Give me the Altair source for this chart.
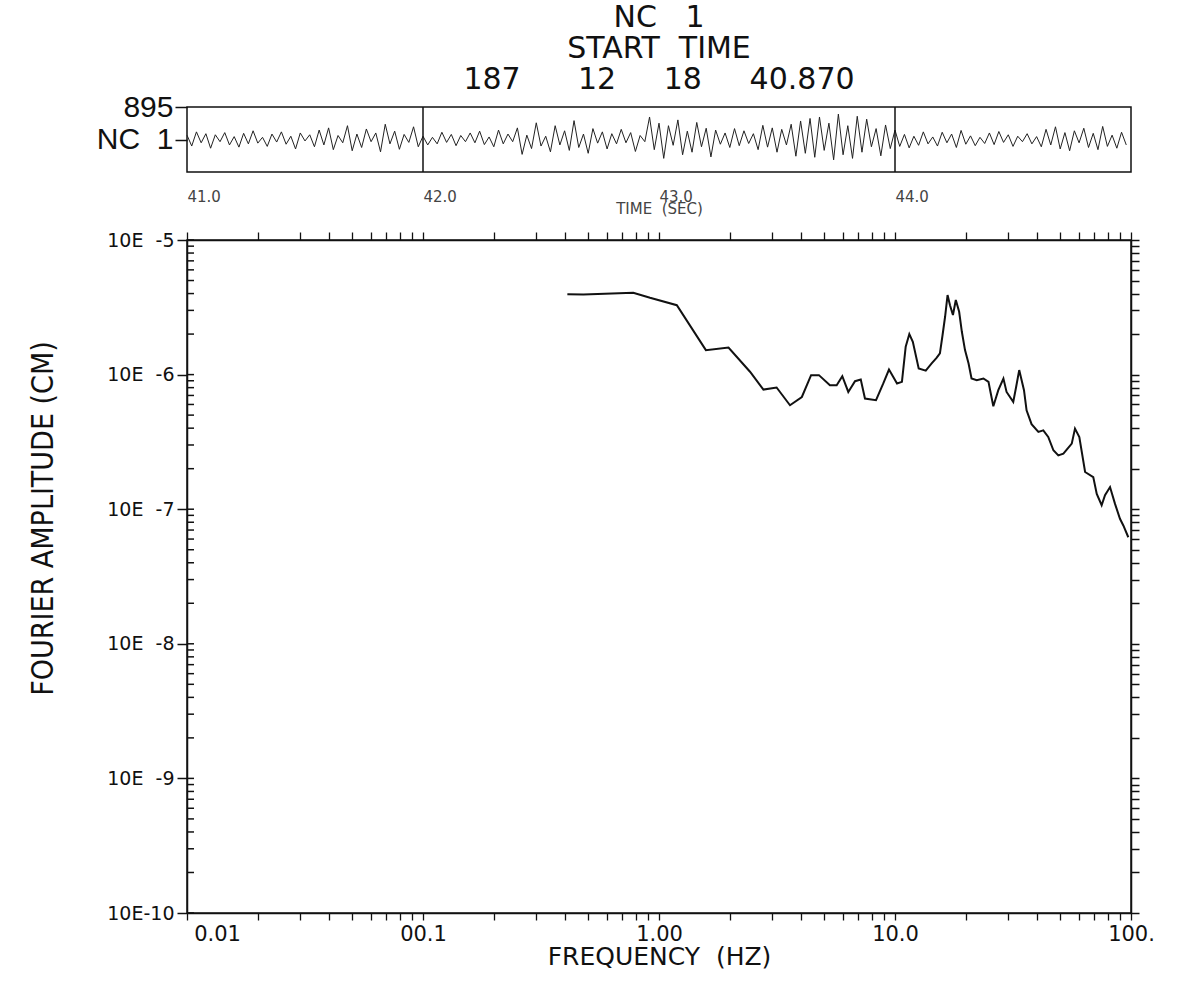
import altair as alt
import pandas as pd

# ---------------- data ----------------
# Fourier amplitude spectrum
freq_hz = [0.409, 0.478, 0.778, 0.916, 1.19, 1.58, 1.97, 2.43, 2.77, 3.15,
           3.59, 4.03, 4.41, 4.76, 5.30, 5.66, 5.98, 6.34, 6.77, 7.16,
           7.46, 8.31, 8.92, 9.43, 10.2, 10.7, 11.1, 11.5, 11.9, 12.6,
           13.5, 14.3, 15.0, 15.5, 15.9, 16.3, 16.7, 17.1, 17.6, 18.1,
           18.7, 19.2, 19.8, 20.5, 21.1, 22.2, 23.7, 24.9, 25.3, 26.1,
           27.4, 28.8, 29.7, 31.7, 32.6, 33.6, 35.2, 36.1, 37.9, 40.5,
           42.5, 44.6, 46.9, 49.2, 51.7, 56.1, 57.9, 60.4, 63.9, 69.2,
           71.6, 75.1, 77.6, 81.5, 85.5, 89.8, 92.8, 97.4]
amp_cm = [3.96e-6, 3.94e-6, 4.06e-6, 3.72e-6, 3.28e-6, 1.52e-6, 1.59e-6, 1.05e-6, 7.74e-7, 8.02e-7,
          5.92e-7, 6.82e-7, 9.91e-7, 9.91e-7, 8.34e-7, 8.34e-7, 9.72e-7, 7.43e-7, 8.93e-7, 9.20e-7,
          6.64e-7, 6.46e-7, 8.59e-7, 1.09e-6, 8.59e-7, 8.83e-7, 1.61e-6, 2.00e-6, 1.75e-6, 1.11e-6,
          1.07e-6, 1.21e-6, 1.33e-6, 1.44e-6, 1.96e-6, 2.69e-6, 3.90e-6, 3.28e-6, 2.77e-6, 3.58e-6,
          2.93e-6, 2.08e-6, 1.52e-6, 1.21e-6, 9.35e-7, 9.08e-7, 9.35e-7, 8.83e-7, 7.66e-7, 5.82e-7,
          7.66e-7, 9.35e-7, 7.43e-7, 6.27e-7, 8.09e-7, 1.08e-6, 7.66e-7, 5.43e-7, 4.28e-7, 3.75e-7,
          3.85e-7, 3.44e-7, 2.74e-7, 2.51e-7, 2.59e-7, 3.07e-7, 3.97e-7, 3.44e-7, 1.89e-7, 1.73e-7,
          1.30e-7, 1.07e-7, 1.27e-7, 1.46e-7, 1.10e-7, 8.49e-8, 7.57e-8, 6.19e-8]

# Time-history strip (41.00 s .. 44.98 s, every 0.02 s), counts
strip_values = [
    120, -180, 210, -90, 160, -240, 130, -60, 190, -150,
    80, -210, 170, -120, 240, -100, 60, -190, 150, -70,
    210, -130, 90, -260, 180, -40, 130, -200, 260, -150,
    320, -280, 110, -90, 380, -310, 150, -220, 290, -60,
    180, -340, 420, -120, 230, -270, 140, -80, 350, -200,
    90, -150, 60, -120, 200, -80, 140, -170, 110, -60,
    180, -90, 230, -140, 70, -200, 260, -120, 150, -60,
    320, -410, 120, -250, 460, -180, 90, -340, 380, -150,
    240, -300, 520, -220, 150, -380, 300, -100, 210, -260,
    160, -120, 280, -90, 190, -330, 110, -60, 620, -280,
    450, -520, 380, -160, 540, -420, 230, -350, 470, -200,
    310, -480, 260, -130, 180, -220, 300, -170, 240, -110,
    160, -280, 390, -210, 320, -350, 280, -150, 420, -460,
    510, -380, 580, -490, 620, -300, 450, -560, 700, -420,
    380, -520, 640, -350, 560, -200, 300, -450, 400, -250,
    260, -190, 140, -230, 90, -160, 210, -120, 70, -180,
    200, -90, 150, -220, 250, -130, 100, -170, 60, -110,
    180, -140, 220, -80, 130, -190, 90, -60, 160, -120,
    80, -200, 280, -150, 350, -260, 190, -310, 240, -90,
    310, -220, 170, -280, 360, -190, 120, -240, 200, -150,
]
strip_start = 41.0
strip_dt = 0.02
strip_time = [round(strip_start + i * strip_dt, 2) for i in range(len(strip_values))]
strip_full_scale = 895
strip_time_ticks = [41.0, 42.0, 43.0, 44.0]
strip_dividers = [42.0, 44.0]

title_lines = ["NC\u00a0\u00a0\u00a01", "START\u00a0\u00a0TIME",
               "187" + "\u00a0" * 6 + "12" + "\u00a0" * 5 + "18" + "\u00a0" * 5 + "40.870"]

x_decades = [0.01, 0.1, 1.0, 10.0, 100.0]
x_decade_labels = ["0.01", "00.1", "1.00", "10.0", "100."]
y_decades = [1e-10, 1e-9, 1e-8, 1e-7, 1e-6, 1e-5]
mantissas = [1, 2, 3, 4, 5, 6, 7, 8, 9]

x_all_ticks = [round(d * m, 6) for d in x_decades[:-1] for m in mantissas] + [100.0]
y_all_ticks = [float(f"{d * m:.3g}") for d in y_decades[:-1] for m in mantissas] + [1e-5]

spec_df = pd.DataFrame({"freq": freq_hz, "amp": amp_cm})
strip_df = pd.DataFrame({"t": strip_time, "v": strip_values})
div_df = pd.DataFrame({"t": strip_dividers})
ytick_df = pd.DataFrame({"v": y_all_ticks})

BLACK = "#111111"
PLOT_FONT = "DejaVu Sans"
TXT_FONT = "Liberation Sans"

# ---------------- label expressions ----------------
x_label_expr = " : ".join(
    f"datum.value == {v} ? '{s}'" for v, s in zip(x_decades, x_decade_labels)
) + " : ''"
y_label_expr = ("round(log(datum.value)/LN10) == -10 ? '10E-10' : "
                "'10E\u00a0\u00a0' + round(log(datum.value)/LN10)")

# ---------------- top strip ----------------
xs_strip = alt.Scale(domain=[41.0, 45.0], nice=False, zero=False)
ys_strip = alt.Scale(domain=[-strip_full_scale, strip_full_scale], nice=False)

strip_line = alt.Chart(strip_df).mark_line(color="#222222", strokeWidth=1).encode(
    x=alt.X("t:Q", scale=xs_strip,
            axis=alt.Axis(values=strip_time_ticks, format=".1f", labelAlign="left",
                          labelFlush=False, ticks=False, domain=False, grid=False,
                          labelFont=PLOT_FONT, labelFontSize=15, labelColor="#444444",
                          labelPadding=17, title="TIME\u00a0\u00a0(SEC)",
                          titleFont=PLOT_FONT, titleFontSize=15, titleFontWeight="normal",
                          titleColor="#444444", titlePadding=-3)),
    y=alt.Y("v:Q", scale=ys_strip,
            axis=alt.Axis(values=[strip_full_scale, 0],
                          labelExpr=f"datum.value == {strip_full_scale} ? '{strip_full_scale}' : 'NC\u00a0\u00a01'",
                          tickSize=12, tickColor=BLACK, tickWidth=1.5, domain=False, grid=False,
                          labelFont=TXT_FONT, labelFontSize=30, labelColor=BLACK,
                          labelPadding=2, title=None)),
)
strip_div = alt.Chart(div_df).mark_rule(color=BLACK, strokeWidth=1.5).encode(
    x=alt.X("t:Q", scale=xs_strip)
)
strip = alt.layer(strip_line, strip_div).properties(
    width=944, height=65,
    title=alt.TitleParams(text=title_lines, anchor="middle", frame="group",
                          font=PLOT_FONT, fontSize=30, fontWeight="normal",
                          color=BLACK, lineHeight=31, offset=-3),
)

# ---------------- main spectrum ----------------
xs = alt.Scale(type="log", domain=[0.01, 100], nice=False)
ys = alt.Scale(type="log", domain=[1e-10, 1e-5], nice=False)

spec_line = alt.Chart(spec_df).mark_line(color=BLACK, strokeWidth=2).encode(
    x=alt.X("freq:Q", scale=xs,
            axis=alt.Axis(values=x_all_ticks, labelExpr=x_label_expr, labelFlush=False,
                          labelOverlap=False,
                          labelOffset={"condition": {"test": "datum.value == 0.01", "value": 30},
                                       "value": 0},
                          tickSize=7, tickColor=BLACK, tickWidth=1.3,
                          domainColor=BLACK, domainWidth=1.5, grid=False,
                          labelFont=PLOT_FONT, labelFontSize=21, labelColor=BLACK,
                          labelPadding=3, title="FREQUENCY\u00a0\u00a0(HZ)",
                          titleFont=PLOT_FONT, titleFontSize=25, titleFontWeight="normal",
                          titleColor=BLACK, titlePadding=0)),
    y=alt.Y("amp:Q", scale=ys,
            axis=alt.Axis(values=y_decades, labelExpr=y_label_expr,
                          tickSize=10, tickColor=BLACK, tickWidth=1.5,
                          domainColor=BLACK, domainWidth=1.5, grid=False,
                          labelFont=PLOT_FONT, labelFontSize=19, labelColor=BLACK,
                          labelPadding=3, title="FOURIER AMPLITUDE (CM)",
                          titleFont="Liberation Sans Narrow, DejaVu Sans Condensed, Liberation Sans",
                          titleFontSize=30, titleFontWeight="normal", titleColor=BLACK,
                          titlePadding=48, titleY=278)),
)
spec_frame = alt.Chart(spec_df).mark_point(opacity=0).encode(
    x=alt.X("freq:Q", scale=xs,
            axis=alt.Axis(orient="top", values=x_all_ticks, labels=False, tickSize=8,
                          tickColor=BLACK, tickWidth=1.3, domainColor=BLACK,
                          domainWidth=1.5, grid=False, title=None)),
    y=alt.Y("amp:Q", scale=ys,
            axis=alt.Axis(orient="right", values=y_all_ticks, labels=False, tickSize=8,
                          tickColor=BLACK, tickWidth=1.5, domainColor=BLACK,
                          domainWidth=1.5, grid=False, title=None)),
)
inner_ticks = alt.Chart(ytick_df).mark_rule(color=BLACK, strokeWidth=1.5).encode(
    y=alt.Y("v:Q", scale=ys, axis=None),
    x=alt.value(0), x2=alt.value(7),
)
main = alt.layer(spec_line, spec_frame, inner_ticks).resolve_axis(
    x="independent", y="independent"
).properties(width=944, height=673)

chart = alt.vconcat(strip, main, spacing=13).configure_view(
    stroke=BLACK, strokeWidth=1.5
).properties(
    padding={"left": 28, "top": 2, "right": 5, "bottom": 5},
    background="white",
)

chart.save("out.html", embed_options={"renderer": "svg", "actions": False})
